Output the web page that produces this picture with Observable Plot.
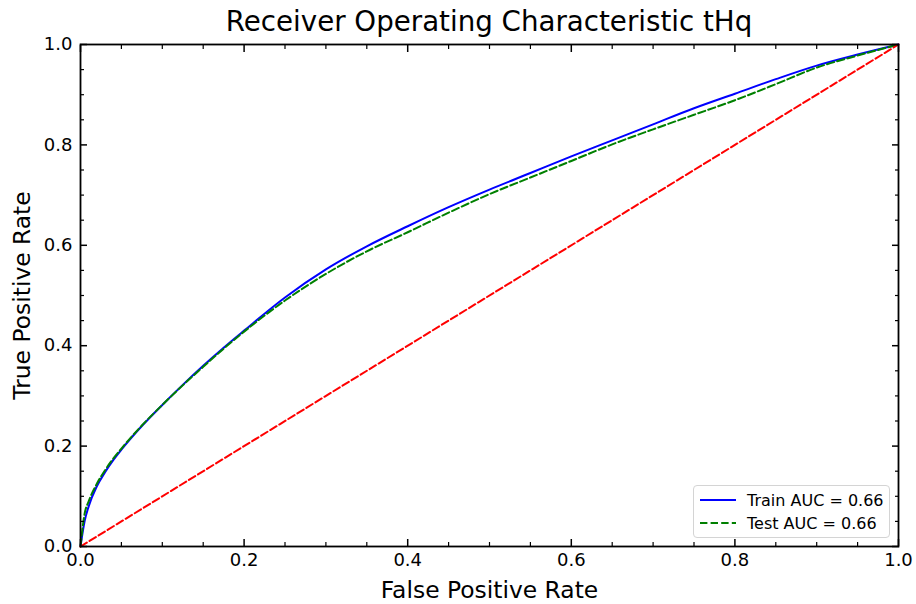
<!DOCTYPE html>
<html><head><meta charset="utf-8">
<script src="https://cdn.jsdelivr.net/npm/d3@7"></script>
<script src="https://cdn.jsdelivr.net/npm/@observablehq/plot@0.6"></script>
<style>
body{margin:0;background:#fff;font-family:"DejaVu Sans",sans-serif;color:#000;}
#wrap{position:relative;width:916px;height:604px;}
#title{position:absolute;left:80px;width:818px;top:4px;height:34px;text-align:center;font-size:27.7px;line-height:36px;white-space:nowrap;z-index:2;}
#chart{position:absolute;left:0;top:34px;z-index:1;}
#legend{position:absolute;left:693px;top:485px;width:195px;height:51px;border:1px solid #d4d4d4;border-radius:4px;background:rgba(255,255,255,0.85);font-size:16px;z-index:3;}
.row{position:absolute;left:6px;height:20px;display:flex;align-items:center;}
.row svg{margin-right:11px;}
</style></head>
<body>
<div id="wrap">
  <div id="title">Receiver Operating Characteristic tHq</div>
  <div id="chart"></div>
  <div id="legend">
    <div class="row" style="top:4px"><svg width="36" height="4"><line x1="0" y1="2" x2="36" y2="2" stroke="blue" stroke-width="2"/></svg><span>Train AUC = 0.66</span></div>
    <div class="row" style="top:27px"><svg width="36" height="4"><line x1="0" y1="2" x2="36" y2="2" stroke="green" stroke-width="2" stroke-dasharray="7.4,3.2"/></svg><span>Test AUC = 0.66</span></div>
  </div>
</div>
<script>
const fprTrain = [0, 0.005, 0.01, 0.02, 0.03, 0.04, 0.05, 0.075, 0.1, 0.125, 0.15, 0.175, 0.2, 0.25, 0.3, 0.35, 0.4, 0.45, 0.5, 0.55, 0.6, 0.65, 0.7, 0.75, 0.8, 0.85, 0.9, 0.95, 1];
const tprTrain = [0, 0.05, 0.08, 0.12, 0.148, 0.172, 0.193, 0.24, 0.282, 0.322, 0.36, 0.396, 0.43, 0.496, 0.552, 0.598, 0.638, 0.676, 0.711, 0.744, 0.777, 0.809, 0.841, 0.873, 0.902, 0.931, 0.958, 0.98, 1];
const fprTest = [0, 0.005, 0.01, 0.02, 0.03, 0.04, 0.05, 0.075, 0.1, 0.125, 0.15, 0.175, 0.2, 0.25, 0.3, 0.35, 0.4, 0.45, 0.5, 0.55, 0.6, 0.65, 0.7, 0.75, 0.8, 0.85, 0.9, 0.95, 1];
const tprTest = [0, 0.065, 0.09, 0.125, 0.152, 0.175, 0.195, 0.241, 0.282, 0.321, 0.358, 0.394, 0.428, 0.49, 0.543, 0.588, 0.626, 0.665, 0.702, 0.735, 0.768, 0.801, 0.831, 0.86, 0.889, 0.921, 0.954, 0.978, 1];
const fprChance = [0, 1];
const tprChance = [0, 1];
const majorTicks = [0, 0.2, 0.4, 0.6, 0.8, 1.0];
const minorTicks = [0.05,0.1,0.15,0.25,0.3,0.35,0.45,0.5,0.55,0.65,0.7,0.75,0.85,0.9,0.95];
const xLabel = "False Positive Rate";
const yLabel = "True Positive Rate";

const toPts = (xs, ys) => xs.map((x, i) => ({x, y: ys[i]}));
const dash = "7.4,3.2";
const none = () => "";

const axes = [];
for (const anchor of ["bottom", "top"]) {
  axes.push(Plot.axisX(majorTicks, {anchor, tickSize: -7, strokeWidth: 1.5, tickPadding: 14, fontSize: 18,
    tickFormat: anchor === "bottom" ? (d => d.toFixed(1)) : none, label: null}));
  axes.push(Plot.axisX(minorTicks, {anchor, tickSize: -4, strokeWidth: 1.2, tickFormat: none, label: null}));
}
for (const anchor of ["left", "right"]) {
  axes.push(Plot.axisY(majorTicks, {anchor, tickSize: -7, strokeWidth: 1.5, tickPadding: 15, fontSize: 18,
    tickFormat: anchor === "left" ? (d => d.toFixed(1)) : none, label: null}));
  axes.push(Plot.axisY(minorTicks, {anchor, tickSize: -4, strokeWidth: 1.2, tickFormat: none, label: null}));
}

const chart = Plot.plot({
  width: 916, height: 570,
  marginTop: 10, marginLeft: 80, marginRight: 18, marginBottom: 58,
  style: {fontFamily: "DejaVu Sans, sans-serif", color: "black", background: "transparent"},
  x: {domain: [0, 1]},
  y: {domain: [0, 1]},
  marks: [
    Plot.line(toPts(fprTrain, tprTrain), {x: "x", y: "y", stroke: "blue", strokeWidth: 2, curve: "monotone-x"}),
    Plot.line(toPts(fprTest, tprTest), {x: "x", y: "y", stroke: "green", strokeWidth: 2, strokeDasharray: dash, curve: "monotone-x"}),
    Plot.line(toPts(fprChance, tprChance), {x: "x", y: "y", stroke: "red", strokeWidth: 2, strokeDasharray: dash}),
    ...axes,
    Plot.frame({stroke: "black", strokeWidth: 1.8}),
    Plot.text([xLabel], {text: d => d, frameAnchor: "bottom", textAnchor: "middle", dy: 44, lineAnchor: "middle", fontSize: 23.4}),
    Plot.text([yLabel], {text: d => d, frameAnchor: "left", textAnchor: "middle", lineAnchor: "middle", rotate: -90, dx: -58, fontSize: 23.4})
  ]
});
document.getElementById("chart").appendChild(chart);
</script>
</body></html>
